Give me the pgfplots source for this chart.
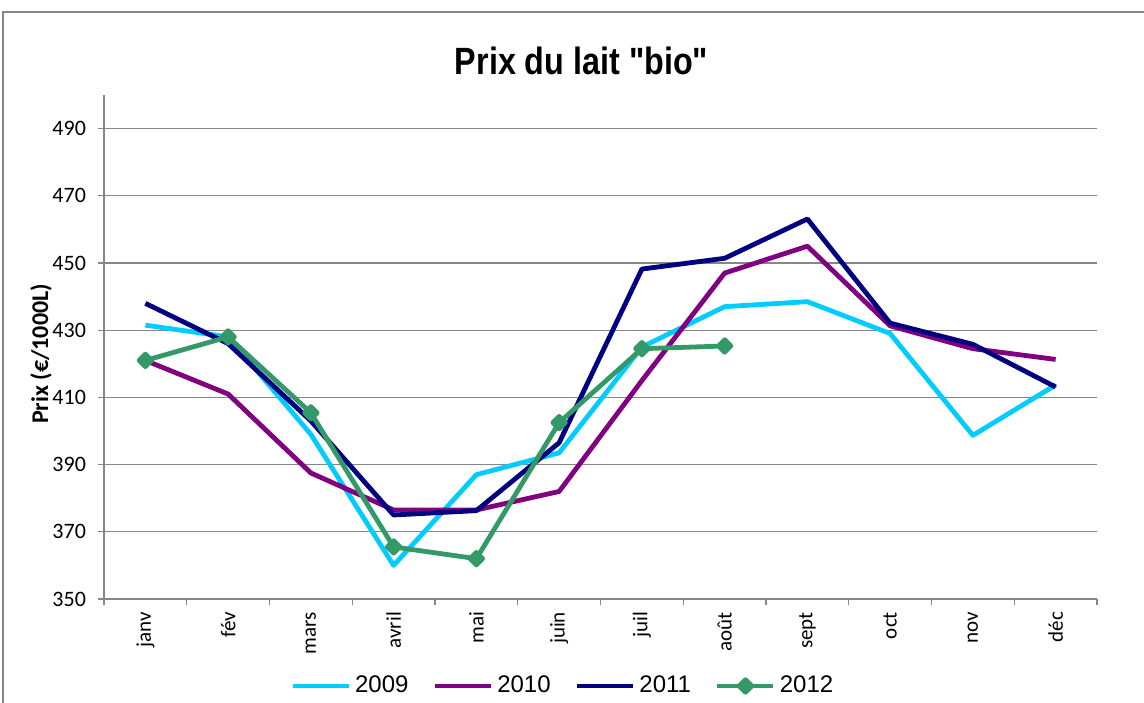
\documentclass[border=0pt]{standalone}
\usepackage{pgfplots}
\pgfplotsset{compat=1.18}
\usepackage{fontspec}
\setmainfont{Carlito}
\newfontfamily\arialfont{Liberation Sans}
\newfontfamily\titlefont[FakeStretch=0.85]{Liberation Sans}
\definecolor{c09}{RGB}{0,204,255}
\definecolor{c10}{RGB}{128,0,128}
\definecolor{c11}{RGB}{0,0,128}
\definecolor{c12}{RGB}{51,153,102}
\definecolor{axgray}{RGB}{134,134,134}
\begin{document}
\begin{tikzpicture}
\useasboundingbox (0,0) rectangle (572pt,351pt);
\draw[axgray, line width=0.75pt] (1.5pt,-10pt) rectangle (590pt,345pt);
\begin{axis}[
  at={(52pt,51.5pt)}, anchor=south west,
  scale only axis, width=496.5pt, height=252pt,
  xmin=-0.5, xmax=11.5, ymin=350, ymax=500,
  axis lines=left, axis line style={-, axgray, line width=0.6pt},
  xtick={-0.5,0.5,...,11.5}, xticklabels={},
  extra x ticks={0,...,11},
  extra x tick labels={janv,fév,mars,avril,mai,juin,juil,août,sept,oct,nov,déc},
  extra x tick style={major tick length=0pt, xticklabel style={yshift=-3pt, rotate=90, anchor=east, font=\fontsize{10.5}{12}\selectfont}},
  ytick={350,370,...,490},
  tick align=outside, major tick length=3pt,
  tick style={axgray, line width=0.6pt},
  yticklabel style={font=\fontsize{11}{12}\selectfont, xshift=-2.5pt},
  /pgf/number format/assume math mode=true,
  ymajorgrids, grid style={axgray, line width=0.6pt},
  legend style={at={(0.463,-0.1726)}, anchor=center, draw=none, legend columns=4,
    font=\arialfont\fontsize{12}{14}\selectfont,
    /tikz/every even column/.append style={column sep=10pt}},
  legend image code/.code={\draw[mark repeat=2,mark phase=2,#1] plot coordinates {(0pt,0pt) (14pt,0pt) (28pt,0pt)};},
  every axis plot/.append style={line width=2.4pt, line join=round},
]
\addplot[c09] coordinates {(0,431.5) (1,428) (2,399) (3,360) (4,387) (5,393.5) (6,425) (7,437) (8,438.5) (9,429) (10,398.7) (11,413.7)};
\addplot[c10] coordinates {(0,421) (1,411) (2,387.5) (3,376.5) (4,376.5) (5,382) (6,415) (7,447) (8,455) (9,431.3) (10,424.5) (11,421.3)};
\addplot[c11] coordinates {(0,438) (1,426) (2,403) (3,375) (4,376.3) (5,396.5) (6,448.2) (7,451.4) (8,463.1) (9,432.1) (10,425.8) (11,413.1)};
\addplot[c12, mark=square*, mark size=2.2pt, mark options={rotate=45, solid}] coordinates {(0,421) (1,428) (2,405.4) (3,365.5) (4,362) (5,402.5) (6,424.5) (7,425.3)};
\legend{2009,2010,2011,2012}
\end{axis}
\node[rotate=90, font=\bfseries\fontsize{12}{14}\selectfont] at (20.5pt,174pt) {Prix (€/1000L)};
\node[anchor=base, font=\titlefont\bfseries\fontsize{19}{22}\selectfont] at (290.75pt,313.5pt) {Prix du lait "bio"};
\end{tikzpicture}
\end{document}
